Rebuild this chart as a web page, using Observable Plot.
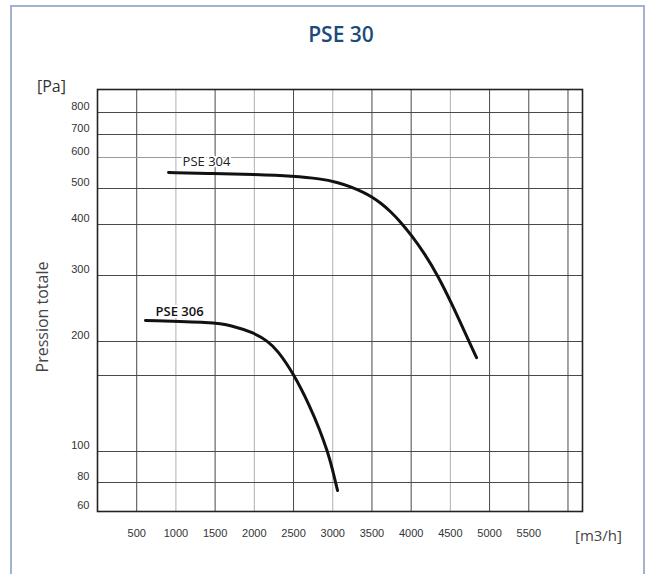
<!DOCTYPE html>
<html>
<head>
<meta charset="utf-8">
<script src="https://cdn.jsdelivr.net/npm/d3@7"></script>
<script src="https://cdn.jsdelivr.net/npm/@observablehq/plot@0.6"></script>
<style>
  html, body { margin: 0; padding: 0; background: #fff; }
  body { width: 649px; height: 574px; overflow: hidden; position: relative; font-family: "Open Sans", sans-serif; }
  #border { position: absolute; left: 10px; top: 5px; width: 635px; height: 600px; border: 2px solid #9fb4cf; box-sizing: border-box; pointer-events: none; z-index: 5; }
  #chart { position: absolute; left: 0; top: 0; }
  .txt { position: absolute; white-space: nowrap; line-height: 1; z-index: 6; }
  #title { left: 341px; top: 24px; transform: translateX(-50%); font-size: 21px; font-weight: 600; color: #1d4b7c; }
  #pa { left: 37px; top: 78px; font-size: 16px; color: #333; }
  #ylab { left: 42px; top: 317px; transform: translate(-50%, -50%) rotate(-90deg); font-size: 16px; color: #444; }
  #unit { left: 575px; top: 528px; font-size: 15px; color: #444; }
</style>
</head>
<body>
<div id="border"></div>
<div id="chart"></div>
<div class="txt" id="title">PSE 30</div>
<div class="txt" id="pa">[Pa]</div>
<div class="txt" id="ylab">Pression totale</div>
<div class="txt" id="unit">[m3/h]</div>
<script>
// ---- data ----
const flow304 = [906, 1480, 1990, 2500, 2844, 3061, 3227, 3393, 3495, 3610, 3737, 3865, 4005, 4171, 4337, 4515, 4732, 4834];
const press304 = [551.6, 548.4, 545.2, 540.3, 531.6, 519.7, 505.8, 489.2, 477.0, 460.0, 436.4, 407.2, 378.6, 343.0, 300.8, 258.2, 201.5, 176.2];
const flow306 = [612, 1480, 1696, 1990, 2168, 2296, 2500, 2717, 2832, 2934, 2997, 3036, 3061];
const press306 = [231.8, 228.8, 224.8, 213.5, 200.8, 187.1, 152.9, 128.9, 114.5, 100, 88.4, 80, 74.5];
const curveNames = ["PSE 304", "PSE 306"];
const labelFlow = [1390, 1046];
const labelPress = [587, 245];
const xTickLabels = [500, 1000, 1500, 2000, 2500, 3000, 3500, 4000, 4500, 5000, 5500];
const xGridDark = [500, 1500, 2500, 3500, 4000, 5000, 5500, 6000];
const xGridLight = [1000, 2000, 3000, 4500];
const yTickLabels = [60, 80, 100, 200, 300, 400, 500, 600, 700, 800];
const yGridDark = [80, 100, 150, 200, 300, 400, 500, 700, 800];
const yGridLight = [600];
// the printed pressure axis is non-uniform: breakpoints and their spacing (axis units from the bottom)
const yBreaks = [60, 80, 100, 150, 200, 300, 400, 500, 600, 700, 800, 900];
const yBreakUnits = [0, 29, 60, 136, 170, 236, 287, 323, 354, 377, 399, 422];

const data304 = flow304.map((f, i) => ({flow: f, p: press304[i]}));
const data306 = flow306.map((f, i) => ({flow: f, p: press306[i]}));

const pressureAxis = d3.scaleLinear().domain(yBreaks).range(yBreakUnits);
const fmt = d => String(d);

const chart = Plot.plot({
  width: 649,
  height: 574,
  marginLeft: 97,
  marginRight: 67,
  marginTop: 89,
  marginBottom: 63,
  style: {background: "transparent", fontFamily: "'Liberation Sans', Arial, sans-serif", overflow: "visible"},
  x: {domain: [0, 6185]},
  y: {type: "linear", transform: v => pressureAxis(v), domain: [yBreakUnits[0], yBreakUnits[yBreakUnits.length - 1]]},
  marks: [
    Plot.gridX(xGridLight, {stroke: "#b0b0b0", strokeOpacity: 1, strokeWidth: 1}),
    Plot.gridX(xGridDark, {stroke: "#4a4a4a", strokeOpacity: 1, strokeWidth: 1}),
    Plot.gridY(yGridLight, {stroke: "#9a9a9a", strokeOpacity: 1, strokeWidth: 1}),
    Plot.gridY(yGridDark, {stroke: "#4a4a4a", strokeOpacity: 1, strokeWidth: 1}),
    Plot.frame({stroke: "#222", strokeWidth: 1.6}),
    Plot.axisX(xTickLabels, {anchor: "bottom", tickSize: 0, tickPadding: 18, tickFormat: fmt, label: null, fontSize: 11, fill: "#333"}),
    Plot.axisY(yTickLabels, {anchor: "left", tickSize: 0, tickPadding: 8, tickFormat: fmt, label: null, fontSize: 11, fill: "#333", dy: -6}),
    Plot.line(data304, {x: "flow", y: "p", curve: "basis", stroke: "#111", strokeWidth: 3, strokeLinecap: "round"}),
    Plot.line(data306, {x: "flow", y: "p", curve: "basis", stroke: "#111", strokeWidth: 3, strokeLinecap: "round"}),
    Plot.text([curveNames[0]], {x: [labelFlow[0]], y: [labelPress[0]], text: d => d, fontFamily: "Open Sans", fontSize: 13, fill: "#222", stroke: "white", strokeWidth: 4}),
    Plot.text([curveNames[1]], {x: [labelFlow[1]], y: [labelPress[1]], text: d => d, fontFamily: "Open Sans", fontSize: 13, fontWeight: 600, fill: "#111", stroke: "white", strokeWidth: 4})
  ]
});
document.getElementById("chart").appendChild(chart);
</script>
</body>
</html>
